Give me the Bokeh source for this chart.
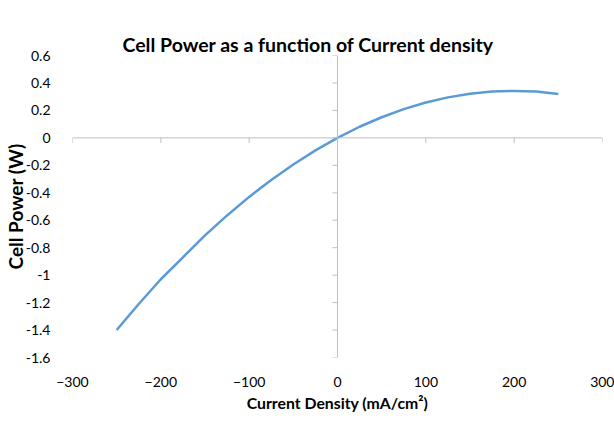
import math
from bokeh.plotting import figure
from bokeh.models import LinearAxis, FixedTicker, CustomJSTickFormatter, Range1d, Span, Title
from bokeh.embed import file_html
from bokeh.resources import INLINE

# ---- data ----
current_density = [-250, -225, -200, -175, -150, -125, -100, -75, -50, -25, 0,
                   25, 50, 75, 100, 125, 150, 175, 200, 225, 250]
cell_power = [-1.40, -1.21, -1.03, -0.87, -0.71, -0.565, -0.43, -0.307, -0.194, -0.091, 0.0,
              0.081, 0.150, 0.209, 0.258, 0.295, 0.322, 0.337, 0.342, 0.337, 0.32]

x_ticks = [-300, -200, -100, 0, 100, 200, 300]
y_ticks = [-1.6, -1.4, -1.2, -1.0, -0.8, -0.6, -0.4, -0.2, 0.0, 0.2, 0.4, 0.6]
y_tick_labels = ["-1.6", "-1.4", "-1.2", "-1", "-0.8", "-0.6", "-0.4", "-0.2", "0", "0.2", "0.4", "0.6"]

title_text = "Cell Power as a function of Current density"
x_title = "Current Density (mA/cm\u00b2)"
y_title = "Cell Power (W)"

FONT = "Lato"
AXIS_GREY = "#bfbfbf"

p = figure(width=614, height=425, output_backend="svg", toolbar_location=None,
           x_range=Range1d(x_ticks[0], x_ticks[-1]), y_range=Range1d(y_ticks[0], y_ticks[-1]),
           x_axis_type=None, y_axis_type=None,
           min_border_left=72, min_border_right=12, min_border_top=55, min_border_bottom=68)
p.outline_line_color = None
p.background_fill_color = "white"
p.border_fill_color = "white"

p.add_layout(Title(text=title_text, text_font=FONT, text_font_size="19.5px",
                   text_font_style="bold", text_color="black", align="left", offset=50,
                   vertical_align="bottom", standoff=0), "above")

# tick-less spacer in the top panel (it has no ticks, so draws nothing)
spacer = LinearAxis(ticker=FixedTicker(ticks=[]))
spacer.axis_line_color = None
spacer.major_tick_line_color = "white"
spacer.minor_tick_line_color = None
spacer.major_tick_in = 0
spacer.major_tick_out = 26
p.add_layout(spacer, "above")

y_fmt = CustomJSTickFormatter(args=dict(tvals=y_ticks, tlabels=y_tick_labels), code="""
let best = 0, bd = Infinity;
for (let i = 0; i < tvals.length; i++) { const d = Math.abs(tvals[i] - tick); if (d < bd) { bd = d; best = i; } }
return tlabels[best];
""")

# label-only axes at the plot edges
xlab = LinearAxis(ticker=FixedTicker(ticks=x_ticks), axis_label=x_title)
xlab.axis_line_color = None
xlab.major_tick_line_color = None
xlab.minor_tick_line_color = None
xlab.major_label_standoff = 13
xlab.major_label_text_font = FONT
xlab.major_label_text_font_size = "14px"
xlab.major_label_text_color = "black"
xlab.axis_label_text_font = FONT
xlab.axis_label_text_font_size = "15.8px"
xlab.axis_label_text_font_style = "bold"
xlab.axis_label_text_color = "black"
xlab.axis_label_standoff = 3
p.add_layout(xlab, "below")

ylab = LinearAxis(ticker=FixedTicker(ticks=y_ticks), formatter=y_fmt, axis_label=y_title)
ylab.axis_line_color = None
ylab.major_tick_line_color = None
ylab.minor_tick_line_color = None
ylab.major_label_standoff = 16
ylab.major_label_text_font = FONT
ylab.major_label_text_font_size = "14px"
ylab.major_label_text_color = "black"
ylab.axis_label_text_font = FONT
ylab.axis_label_text_font_size = "19px"
ylab.axis_label_text_font_style = "bold"
ylab.axis_label_text_color = "black"
ylab.axis_label_standoff = -4
p.add_layout(ylab, "left")

# axes crossing at zero, with outward ticks
p.add_layout(Span(location=0, dimension="width", line_color=AXIS_GREY, line_width=1))
p.add_layout(Span(location=0, dimension="height", line_color=AXIS_GREY, line_width=1))
p.ray(x=x_ticks, y=[0] * len(x_ticks), length=5, length_units="screen",
      angle=-math.pi / 2, line_color=AXIS_GREY, line_width=1)
p.ray(x=[0] * len(y_ticks), y=y_ticks, length=5, length_units="screen",
      angle=math.pi, line_color=AXIS_GREY, line_width=1)

p.line(current_density, cell_power, line_color="#5b9bd5", line_width=2.5)

open("out.html", "w").write(file_html(p, INLINE))
